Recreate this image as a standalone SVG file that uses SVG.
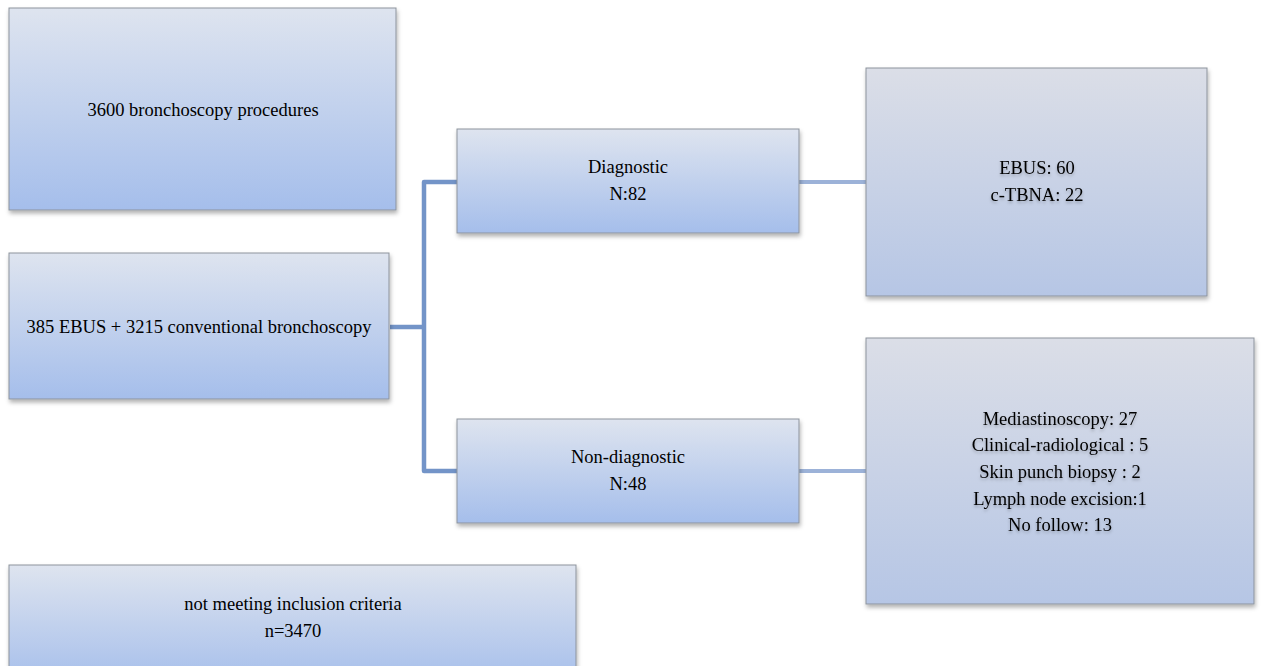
<svg xmlns="http://www.w3.org/2000/svg" width="1262" height="666" viewBox="0 0 1262 666">
<style>
.box{stroke:#8d939d;stroke-width:1;filter:url(#sh)}
.b{fill:url(#gA)}
.g{fill:url(#gB)}
text{font-family:"Liberation Serif","Times New Roman",serif;font-size:18.5px;fill:#000;text-anchor:middle}
.ts{filter:url(#tg)}
.c1{stroke:#7394c8;stroke-width:4.5;fill:none;stroke-linejoin:round}
.c2{stroke:#9cb2d8;stroke-width:4;fill:none}
</style>
<defs>
<linearGradient id="gA" x1="0" y1="0" x2="0" y2="1">
<stop offset="0" stop-color="#dee4ef"/>
<stop offset="1" stop-color="#a5beeb"/>
</linearGradient>
<linearGradient id="gB" x1="0" y1="0" x2="0" y2="1">
<stop offset="0" stop-color="#dbdee7"/>
<stop offset="1" stop-color="#b6c6e5"/>
</linearGradient>
<filter id="sh" x="-5%" y="-5%" width="110%" height="115%">
<feDropShadow dx="1" dy="3" stdDeviation="2" flood-color="#000" flood-opacity="0.3"/>
</filter>
<filter id="tg" x="-10%" y="-30%" width="120%" height="160%">
<feDropShadow dx="0" dy="2" stdDeviation="1.5" flood-color="#000" flood-opacity="0.25"/>
</filter>
</defs>
<rect width="1262" height="666" fill="#fff"/>
<g id="connectors">
<path class="c1" d="M390 327H424M457 182H424V471H457"/>
<path class="c2" d="M799 182H867M799 471H867"/>
</g>
<g id="n1">
<rect class="box b" x="9" y="8" width="387" height="202"/>
<text x="203" y="116">3600 bronchoscopy procedures</text>
</g>
<g id="n2">
<rect class="box b" x="9" y="253" width="380" height="146"/>
<text x="199" y="333">385 EBUS + 3215 conventional bronchoscopy</text>
</g>
<g id="n3">
<rect class="box b" x="457" y="129" width="342" height="104"/>
<text x="628" y="173">Diagnostic</text>
<text x="628" y="200">N:82</text>
</g>
<g id="n4">
<rect class="box b" x="457" y="419" width="342" height="104"/>
<text x="628" y="463">Non-diagnostic</text>
<text x="628" y="490">N:48</text>
</g>
<g id="n5">
<rect class="box g" x="866" y="68" width="341" height="228"/>
<g class="ts">
<text x="1037" y="174">EBUS: 60</text>
<text x="1037" y="201">c-TBNA: 22</text>
</g>
</g>
<g id="n6">
<rect class="box g" x="866" y="338" width="388" height="266"/>
<g class="ts">
<text x="1060" y="424.6">Mediastinoscopy: 27</text>
<text x="1060" y="451.3">Clinical-radiological : 5</text>
<text x="1060" y="478">Skin punch biopsy : 2</text>
<text x="1060" y="504.7">Lymph node excision:1</text>
<text x="1060" y="531.4">No follow: 13</text>
</g>
</g>
<g id="n7">
<rect class="box b" x="9" y="565" width="567" height="120"/>
<text x="293" y="610">not meeting inclusion criteria</text>
<text x="293" y="637">n=3470</text>
</g>
</svg>
